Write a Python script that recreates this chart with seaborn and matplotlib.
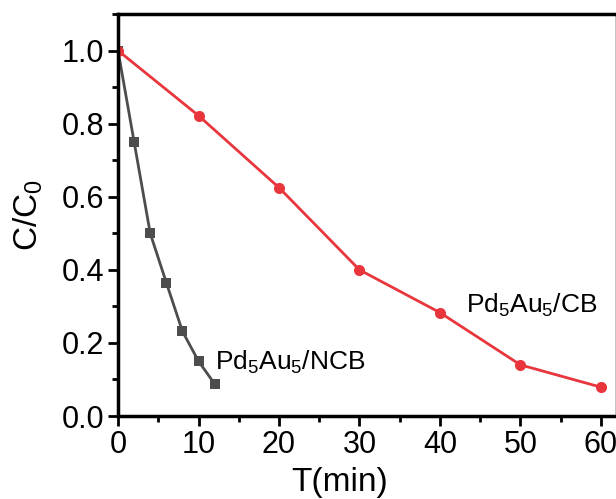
import pandas as pd
import seaborn as sns
import matplotlib.pyplot as plt
from matplotlib.ticker import MultipleLocator

# data
t_ncb = [0, 2, 4, 6, 8, 10, 12]
c_ncb = [1.0, 0.75, 0.50, 0.365, 0.232, 0.15, 0.088]
t_cb = [0, 10, 20, 30, 40, 50, 60]
c_cb = [1.0, 0.822, 0.625, 0.40, 0.283, 0.14, 0.079]

sns.set_style("ticks")
plt.rcParams['font.family'] = ['Liberation Sans', 'DejaVu Sans']
plt.rcParams['mathtext.default'] = 'regular'
plt.rcParams['text.color'] = 'black'
plt.rcParams['axes.labelcolor'] = 'black'
plt.rcParams['xtick.color'] = 'black'
plt.rcParams['ytick.color'] = 'black'

fig = plt.figure(figsize=(6.16, 4.99), dpi=100)
ax = fig.add_axes([0.1916, 0.1663, 0.81, 0.8056])

sns.lineplot(x=t_ncb, y=c_ncb, ax=ax, color="#4d4d4d", marker="s", markersize=7,
             markeredgewidth=0, linewidth=2)
sns.lineplot(x=t_cb, y=c_cb, ax=ax, color="#e8363c", marker="o", markersize=8,
             markeredgewidth=0, linewidth=2)

ax.set_xlim(0, 62)
ax.set_ylim(0, 1.1)
ax.xaxis.set_major_locator(MultipleLocator(10))
ax.xaxis.set_minor_locator(MultipleLocator(5))
ax.yaxis.set_major_locator(MultipleLocator(0.2))
ax.yaxis.set_minor_locator(MultipleLocator(0.1))
ax.yaxis.set_major_formatter(plt.FormatStrFormatter('%.1f'))

for s in ax.spines.values():
    s.set_linewidth(2.5)
    s.set_color("black")
ax.tick_params(which='major', direction='out', length=7, width=2, labelsize=22, pad=3)
ax.tick_params(which='minor', direction='out', length=4, width=2)

ax.set_xlabel("T(min)", fontsize=24)
ax.xaxis.set_label_coords(0.445, -0.127)
ax.set_ylabel("C/C$_0$", fontsize=24, labelpad=12)

ax.text(12.1, 0.148, "Pd$_5$Au$_5$/NCB", fontsize=19, va='center', ha='left')
ax.text(43.2, 0.304, "Pd$_5$Au$_5$/CB", fontsize=19, va='center', ha='left')

fig.savefig("out.png", dpi=100)
